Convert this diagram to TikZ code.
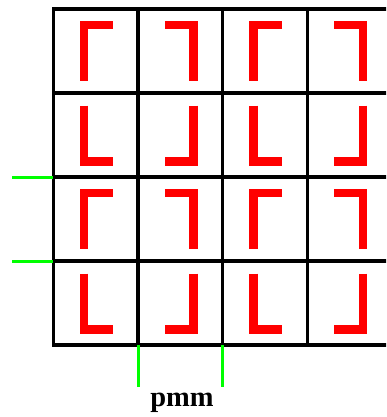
\documentclass[tikz,border=0pt]{standalone}
\usepackage{fontspec}
\setmainfont{Liberation Serif}
\definecolor{brred}{RGB}{255,0,0}
\definecolor{axgreen}{RGB}{0,255,0}
\tikzset{
  gridline/.style={line width=3.4pt, black, line cap=rect},
  bracket/.style={line width=8.3pt, brred, line cap=butt, miter limit=10, line join=miter},
  axisline/.style={line width=3pt, axgreen},
}
\begin{document}
\begin{tikzpicture}[x=1pt,y=-1pt]
\useasboundingbox (0,0) rectangle (386,417);
\clip (0,0) rectangle (386,417);
\def\cw{84.7}
\def\ch{84}
\def\ox{53.3}
\def\oy{9}
% red brackets
\foreach \i in {0,1,2,3}{
  \foreach \j in {0,1,2,3}{
    \pgfmathsetmacro{\cx}{\ox+\i*\cw}
    \pgfmathsetmacro{\cy}{\oy+\j*\ch}
    \pgfmathtruncatemacro{\lr}{mod(\i,2)}
    \pgfmathtruncatemacro{\tb}{mod(\j,2)}
    \ifnum\tb=0
      \ifnum\lr=0
        \draw[bracket] (\cx+59.4,\cy+16.15) -- (\cx+30.85,\cy+16.15) -- (\cx+30.85,\cy+72);
      \else
        \draw[bracket] (\cx+26.8,\cy+16.15) -- (\cx+55.35,\cy+16.15) -- (\cx+55.35,\cy+72);
      \fi
    \else
      \ifnum\lr=0
        \draw[bracket] (\cx+30.85,\cy+12.6) -- (\cx+30.85,\cy+68.45) -- (\cx+59.4,\cy+68.45);
      \else
        \draw[bracket] (\cx+55.35,\cy+12.6) -- (\cx+55.35,\cy+68.45) -- (\cx+26.8,\cy+68.45);
      \fi
    \fi
  }
}
% grid
\foreach \i in {0,...,4}{
  \draw[gridline] (\ox+\i*\cw,\oy) -- (\ox+\i*\cw,\oy+4*\ch);
}
\foreach \j in {0,...,4}{
  \draw[gridline] (\ox,\oy+\j*\ch) -- (\ox+4*\cw,\oy+\j*\ch);
}
% green axis marks
\coordinate (l1) at (12.3,\oy+2*\ch);
\coordinate (l2) at (12.3,\oy+3*\ch);
\coordinate (b1) at (\ox+\cw,386.7);
\coordinate (b2) at (\ox+2*\cw,386.7);
\draw[axisline] (l1) -- (\ox,\oy+2*\ch);
\draw[axisline] (l2) -- (\ox,\oy+3*\ch);
\draw[axisline] (b1) -- (\ox+\cw,\oy+4*\ch);
\draw[axisline] (b2) -- (\ox+2*\cw,\oy+4*\ch);
\node[anchor=base, inner sep=0pt, font=\fontsize{28.5}{30}\selectfont\bfseries] (lbl) at (182,406.7) {pmm};
\end{tikzpicture}
\end{document}
